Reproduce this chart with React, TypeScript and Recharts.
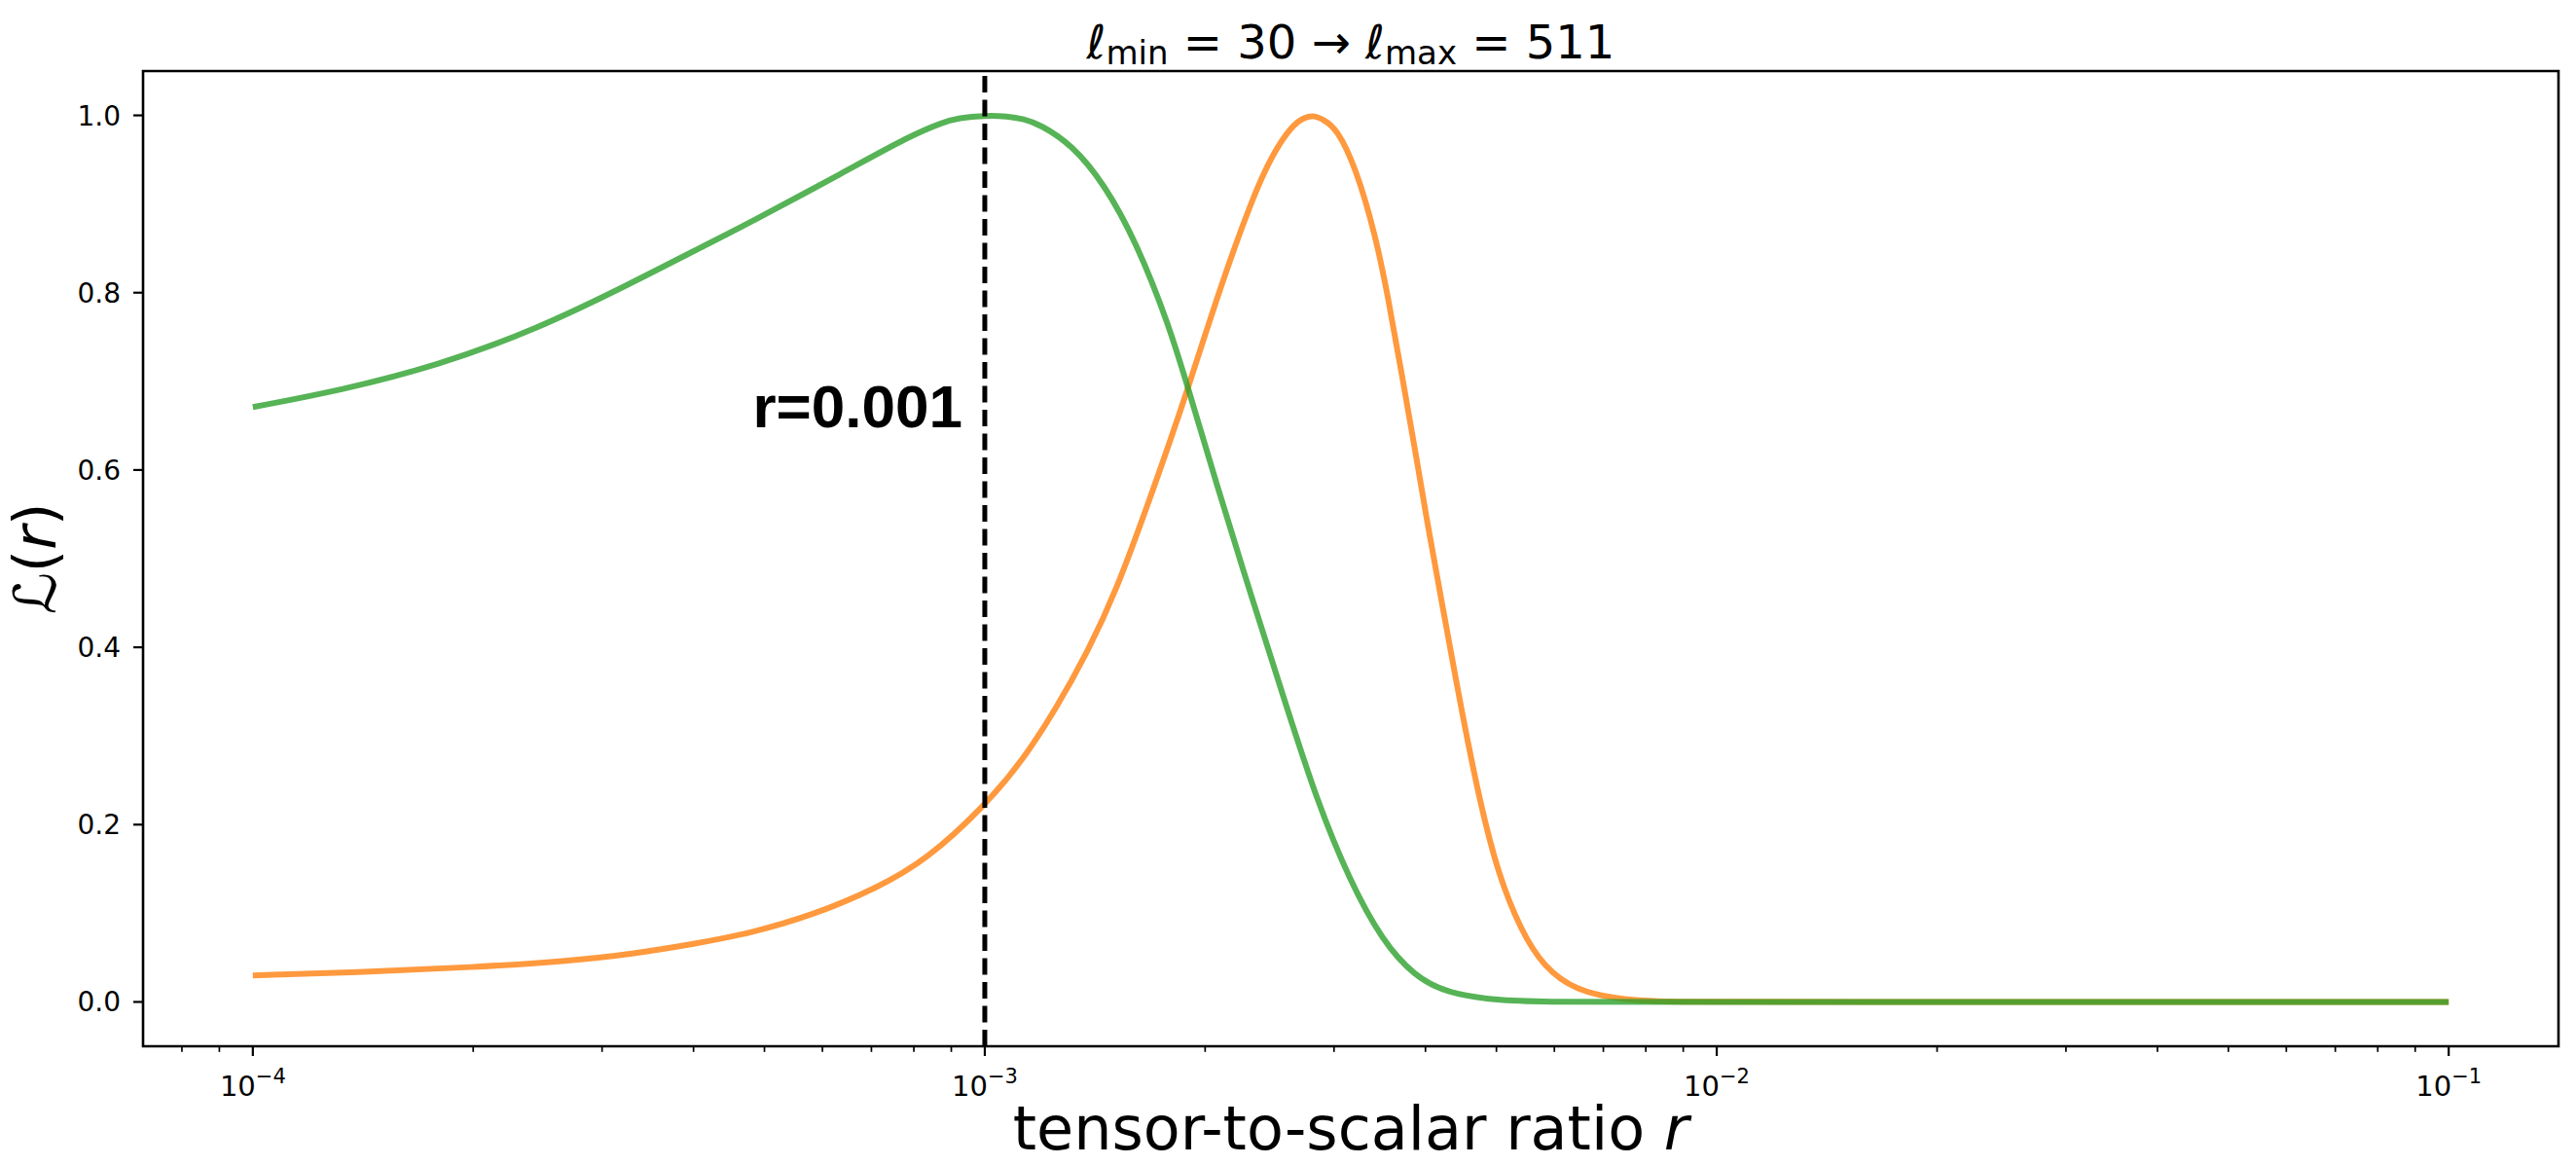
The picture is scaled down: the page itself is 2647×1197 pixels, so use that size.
import React from "react";
import { LineChart, Line, XAxis, YAxis, ReferenceLine, ReferenceArea, ReferenceDot } from "recharts";

// ---- data (x given as log10 r) ----
const GREEN_LOG_R = [-4.0, -3.879, -3.747, -3.614, -3.482, -3.393, -3.323, -3.19, -3.102, -3.058, -3.036, -3.0, -2.969, -2.947, -2.925, -2.881, -2.837, -2.793, -2.749, -2.722, -2.683, -2.636, -2.59, -2.546, -2.501, -2.457, -2.413, -2.369, -2.303, -2.237, -2.1, -1.0];
const GREEN_L = [0.671, 0.69, 0.718, 0.758, 0.811, 0.849, 0.878, 0.937, 0.977, 0.992, 0.997, 1.0, 0.999, 0.996, 0.99, 0.967, 0.923, 0.857, 0.765, 0.692, 0.583, 0.458, 0.339, 0.226, 0.136, 0.069, 0.029, 0.01, 0.002, 0.0, 0.0, 0.0];

const ORANGE_LOG_R = [-4.0, -3.835, -3.702, -3.57, -3.482, -3.393, -3.323, -3.234, -3.146, -3.08, -3.0, -2.947, -2.903, -2.859, -2.822, -2.771, -2.722, -2.683, -2.634, -2.607, -2.581, -2.563, -2.55, -2.537, -2.519, -2.493, -2.466, -2.449, -2.431, -2.413, -2.396, -2.377, -2.351, -2.325, -2.298, -2.267, -2.237, -2.192, -2.126, -2.06, -1.9, -1.0];
const ORANGE_L = [0.03, 0.034, 0.039, 0.046, 0.054, 0.066, 0.077, 0.098, 0.129, 0.16, 0.221, 0.274, 0.33, 0.396, 0.46, 0.575, 0.692, 0.795, 0.908, 0.956, 0.988, 0.998, 1.0, 0.995, 0.985, 0.941, 0.864, 0.795, 0.711, 0.627, 0.543, 0.457, 0.339, 0.23, 0.142, 0.08, 0.04, 0.012, 0.002, 0.0, 0.0, 0.0];

const MARK_R = 0.001;
const MARK_LABEL = "r=0.001";
const MARK_LABEL_Y = 0.648;

// ---- ticks ----
const X_MAJOR_TICKS = [1e-4, 1e-3, 1e-2, 1e-1];
const X_MAJOR_EXP = ["4", "3", "2", "1"];
const X_MINOR_TICKS = [
  8e-5, 9e-5,
  2e-4, 3e-4, 4e-4, 5e-4, 6e-4, 7e-4, 8e-4, 9e-4,
  2e-3, 3e-3, 4e-3, 5e-3, 6e-3, 7e-3, 8e-3, 9e-3,
  2e-2, 3e-2, 4e-2, 5e-2, 6e-2, 7e-2, 8e-2, 9e-2,
];
const Y_TICKS = [0, 0.2, 0.4, 0.6, 0.8, 1.0];
const Y_TICK_LABELS = ["0.0", "0.2", "0.4", "0.6", "0.8", "1.0"];

const X_MIN = 1e-4 / Math.pow(10, 0.15);
const X_MAX = 1e-1 * Math.pow(10, 0.15);
const Y_MIN = -0.05;
const Y_MAX = 1.05;

const greenData = GREEN_LOG_R.map((lr, i) => ({ r: Math.pow(10, lr), L: GREEN_L[i] }));
const orangeData = ORANGE_LOG_R.map((lr, i) => ({ r: Math.pow(10, lr), L: ORANGE_L[i] }));
const xTicks = [...X_MINOR_TICKS, ...X_MAJOR_TICKS].sort((a, b) => a - b);

const FONT = "DejaVu Sans";

const XTick = (props: any) => {
  const { x, y, payload } = props;
  const v = payload.value;
  const mi = X_MAJOR_TICKS.findIndex((t) => Math.abs(t - v) / t < 1e-6);
  const major = mi >= 0;
  return (
    <g>
      <line x1={x} x2={x} y1={y} y2={y + (major ? 10 : 5.8)} stroke="#000" strokeWidth={major ? 2.2 : 1.7} />
      {major && (
        <text x={x} y={y + 51} textAnchor="middle" fontFamily={FONT} fontSize={29} fill="#000">
          <tspan>10</tspan>
          <tspan fontSize={21} dy={-13}>{"\u2212" + X_MAJOR_EXP[mi]}</tspan>
        </text>
      )}
    </g>
  );
};

const YTick = (props: any) => {
  const { x, y, payload } = props;
  const idx = Y_TICKS.findIndex((t) => Math.abs(t - payload.value) < 1e-9);
  return (
    <g>
      <line x1={x - 10} x2={x} y1={y} y2={y} stroke="#000" strokeWidth={2.2} />
      <text x={x - 23} y={y + 10} textAnchor="end" fontFamily={FONT} fontSize={28} fill="#000">
        {idx >= 0 ? Y_TICK_LABELS[idx] : ""}
      </text>
    </g>
  );
};

const MarkText = (props: any) => {
  const { cx, cy } = props;
  return (
    <text x={cx - 23} y={cy} textAnchor="end" fontFamily="Liberation Sans, Arial, sans-serif" fontWeight="bold" fontSize={62} fill="#000">
      {MARK_LABEL}
    </text>
  );
};

export default function App() {
  return (
    <div style={{ position: "absolute", left: 0, top: 0, width: 2647, height: 1197, background: "#fff" }}>
      <LineChart width={2647} height={1197} margin={{ top: 73, right: 18, bottom: 0, left: 0 }}>
        <XAxis
          dataKey="r"
          type="number"
          scale="log"
          domain={[X_MIN, X_MAX]}
          allowDataOverflow
          ticks={xTicks}
          interval={0}
          tickSize={0}
          tickMargin={0}
          axisLine={false}
          tickLine={false}
          tick={<XTick />}
          height={122}
        />
        <YAxis
          type="number"
          domain={[Y_MIN, Y_MAX]}
          allowDataOverflow
          ticks={Y_TICKS}
          interval={0}
          tickSize={0}
          tickMargin={0}
          axisLine={false}
          tickLine={false}
          tick={<YTick />}
          width={147}
        />
        <ReferenceArea x1={X_MIN} x2={X_MAX} y1={Y_MIN} y2={Y_MAX} fill="none" fillOpacity={0} stroke="#000" strokeWidth={2.6} ifOverflow="visible" />
        <Line data={orangeData} dataKey="L" type="basis" stroke="#ff7f0e" strokeOpacity={0.8} strokeWidth={6} dot={false} activeDot={false} isAnimationActive={false} />
        <Line data={greenData} dataKey="L" type="basis" stroke="#2ca02c" strokeOpacity={0.8} strokeWidth={6} dot={false} activeDot={false} isAnimationActive={false} />
        <ReferenceLine x={MARK_R} stroke="#000" strokeWidth={5} strokeDasharray="17 7.5" />
        <ReferenceDot x={MARK_R} y={MARK_LABEL_Y} r={0} shape={<MarkText />} />
      </LineChart>
      <svg width={2647} height={1197} style={{ position: "absolute", left: 0, top: 0, pointerEvents: "none" }}>
        <text x={1388} y={60} textAnchor="middle" fontFamily={FONT} fontSize={48} fill="#000">
          <tspan>{"\u2113"}</tspan>
          <tspan fontSize={34} dy={6}>min</tspan>
          <tspan dy={-6}>{" = 30 \u2192 \u2113"}</tspan>
          <tspan fontSize={34} dy={6}>max</tspan>
          <tspan dy={-6}>{" = 511"}</tspan>
        </text>
        <text x={1388} y={1181} textAnchor="middle" fontFamily={FONT} fontSize={62} fill="#000">
          {"tensor-to-scalar ratio "}
          <tspan fontStyle="italic">r</tspan>
        </text>
        <text transform="translate(57,574) rotate(-90)" textAnchor="middle" fontFamily={FONT} fontSize={60} fill="#000">
          <tspan>{"\u2112("}</tspan>
          <tspan fontStyle="italic">r</tspan>
          <tspan>)</tspan>
        </text>
      </svg>
    </div>
  );
}
